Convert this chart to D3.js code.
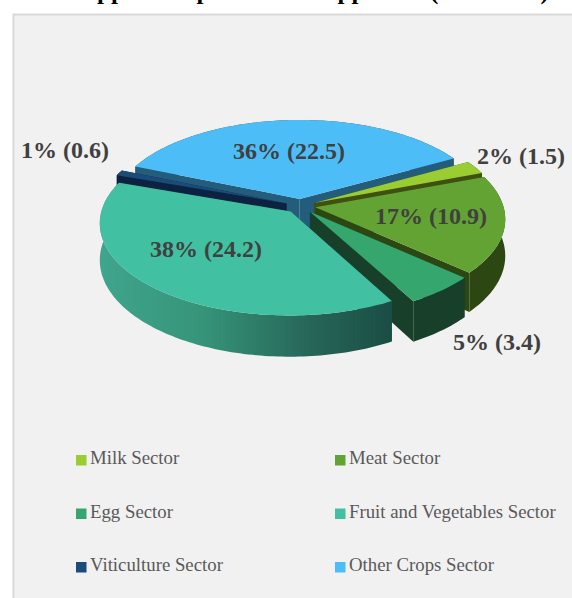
<!DOCTYPE html>
<html>
<head>
<meta charset="utf-8">
<script src="https://cdnjs.cloudflare.com/ajax/libs/d3/7.8.5/d3.min.js"></script>
<style>
  html, body { margin: 0; padding: 0; background: #fff; overflow: hidden; }
  text { font-family: "Liberation Serif", serif; }
</style>
</head>
<body>
<script>
'use strict';

// chart values
const sectors = ['Milk Sector', 'Meat Sector', 'Egg Sector', 'Fruit and Vegetables Sector', 'Viticulture Sector', 'Other Crops Sector'];
const amounts = [1.5, 10.9, 3.4, 24.2, 0.6, 22.5];
const shares = ['2%', '17%', '5%', '38%', '1%', '36%'];

// slice styles, same order as sectors
const topColors = ['#9acd32', '#63a333', '#34a66e', '#42c0a2', '#1b4b78', '#4dbdf7'];
const wallColors = ['#3f5010', '#2d4712', '#173f2a', '#1a4d44', '#0b2240', '#245d7b'];
const labelPos = [[521, 158], [431, 218], [497, 344], [206, 251], [65, 152], [289, 153]];

const width = 572, height = 598;
const cx = 300.5, cy = 206;   // pie centre on the page
const radius = 188, flat = 90; // horizontal / vertical radius
const persp = 0.12;           // near side of the pie is drawn bigger
const depth = 36, explode = 0.08;
const firstAngle = 61 * Math.PI / 180;

const svg = d3.select('body').append('svg')
  .attr('width', width)
  .attr('height', height);

const defs = svg.append('defs');

// chart area
svg.append('rect')
  .attr('x', 13.5).attr('y', 14.5)
  .attr('width', 620).attr('height', 640)
  .attr('fill', '#f1f1f1')
  .attr('stroke', '#d9d9d9')
  .attr('stroke-width', 2);

// the title is cut by the top of the picture, only the tails show
const title = svg.append('text')
  .attr('x', 79).attr('y', -1)
  .style('font-size', '25px')
  .style('font-weight', 'bold')
  .attr('fill', '#000');
title.append('tspan')
  .style('word-spacing', '7px')
  .text('Applied Operations Supports');
title.append('tspan')
  .attr('x', 430)
  .text('(M EURO)');

// pie angles, clockwise from the back of the pie
const pie = d3.pie().sort(null).startAngle(firstAngle).endAngle(firstAngle + 2 * Math.PI);
const arcs = pie(amounts);

// unit pie coordinates to page coordinates
function project(x, y, z) {
  const f = 1 / (1 - persp * y);
  return [cx + radius * x * f, cy + flat * y * f + depth * z * f];
}

function pathOf(points) {
  return d3.line()(points) + 'Z';
}

// points along the rim of a slice
function rim(a, ox, oy, z) {
  const steps = Math.max(4, Math.ceil((a.endAngle - a.startAngle) / 0.02));
  return d3.range(steps + 1).map(i => {
    const t = a.startAngle + (a.endAngle - a.startAngle) * i / steps;
    return project(ox + Math.sin(t), oy - Math.cos(t), z);
  });
}

function drawSlice(a, i) {
  const mid = (a.startAngle + a.endAngle) / 2;
  const ox = Math.sin(mid) * explode, oy = -Math.cos(mid) * explode;
  const g = svg.append('g');
  const topRim = rim(a, ox, oy, 0);
  const lowRim = rim(a, ox, oy, 1);
  const apex = project(ox, oy, 0), apexLow = project(ox, oy, 1);

  // cut faces
  g.append('path')
    .attr('d', pathOf([apex, topRim[0], lowRim[0], apexLow]))
    .attr('fill', wallColors[i]);
  g.append('path')
    .attr('d', pathOf([apex, topRim[topRim.length - 1], lowRim[lowRim.length - 1], apexLow]))
    .attr('fill', wallColors[i]);

  // outer wall, the big slice gets a gradient like the original
  let wallFill = wallColors[i];
  if (i === 3) {
    const grad = defs.append('linearGradient')
      .attr('id', 'fruitWall')
      .attr('gradientUnits', 'userSpaceOnUse')
      .attr('x1', 100).attr('x2', 392).attr('y1', 0).attr('y2', 0);
    grad.append('stop').attr('offset', 0).attr('stop-color', '#3fa58c');
    grad.append('stop').attr('offset', 0.35).attr('stop-color', '#369479');
    grad.append('stop').attr('offset', 0.7).attr('stop-color', '#27685a');
    grad.append('stop').attr('offset', 1).attr('stop-color', '#1a4d44');
    wallFill = 'url(#fruitWall)';
  }
  g.append('path')
    .attr('d', pathOf(topRim.concat(lowRim.slice().reverse())))
    .attr('fill', wallFill);

  // top face
  g.append('path')
    .attr('d', pathOf([apex].concat(topRim)))
    .attr('fill', topColors[i]);
}

// back to front
[5, 4, 0, 1, 2, 3].forEach(i => drawSlice(arcs[i], i));

// data labels
labelPos.forEach((p, i) => {
  svg.append('text')
    .attr('x', p[0]).attr('y', p[1])
    .attr('text-anchor', 'middle')
    .attr('dominant-baseline', 'middle')
    .style('font-size', '24px')
    .style('font-weight', 'bold')
    .attr('fill', '#404040')
    .text(shares[i] + ' (' + amounts[i] + ')');
});

// legend, two columns
const legendX = d3.scalePoint().domain([0, 1]).range([76, 335]);
const legendY = d3.scalePoint().domain([0, 1, 2]).range([458, 565]);

const legend = svg.selectAll('.legend')
  .data(sectors)
  .enter()
  .append('g')
  .attr('class', 'legend')
  .attr('transform', (d, i) => 'translate(' + legendX(i % 2) + ',' + legendY(Math.floor(i / 2)) + ')');

legend.append('rect')
  .attr('x', 0).attr('y', -3)
  .attr('width', 10.5).attr('height', 10.5)
  .attr('fill', (d, i) => topColors[i]);

legend.append('text')
  .attr('x', 14).attr('y', 6)
  .style('font-size', '18.8px')
  .attr('fill', '#595959')
  .text(d => d);
</script>
</body>
</html>
